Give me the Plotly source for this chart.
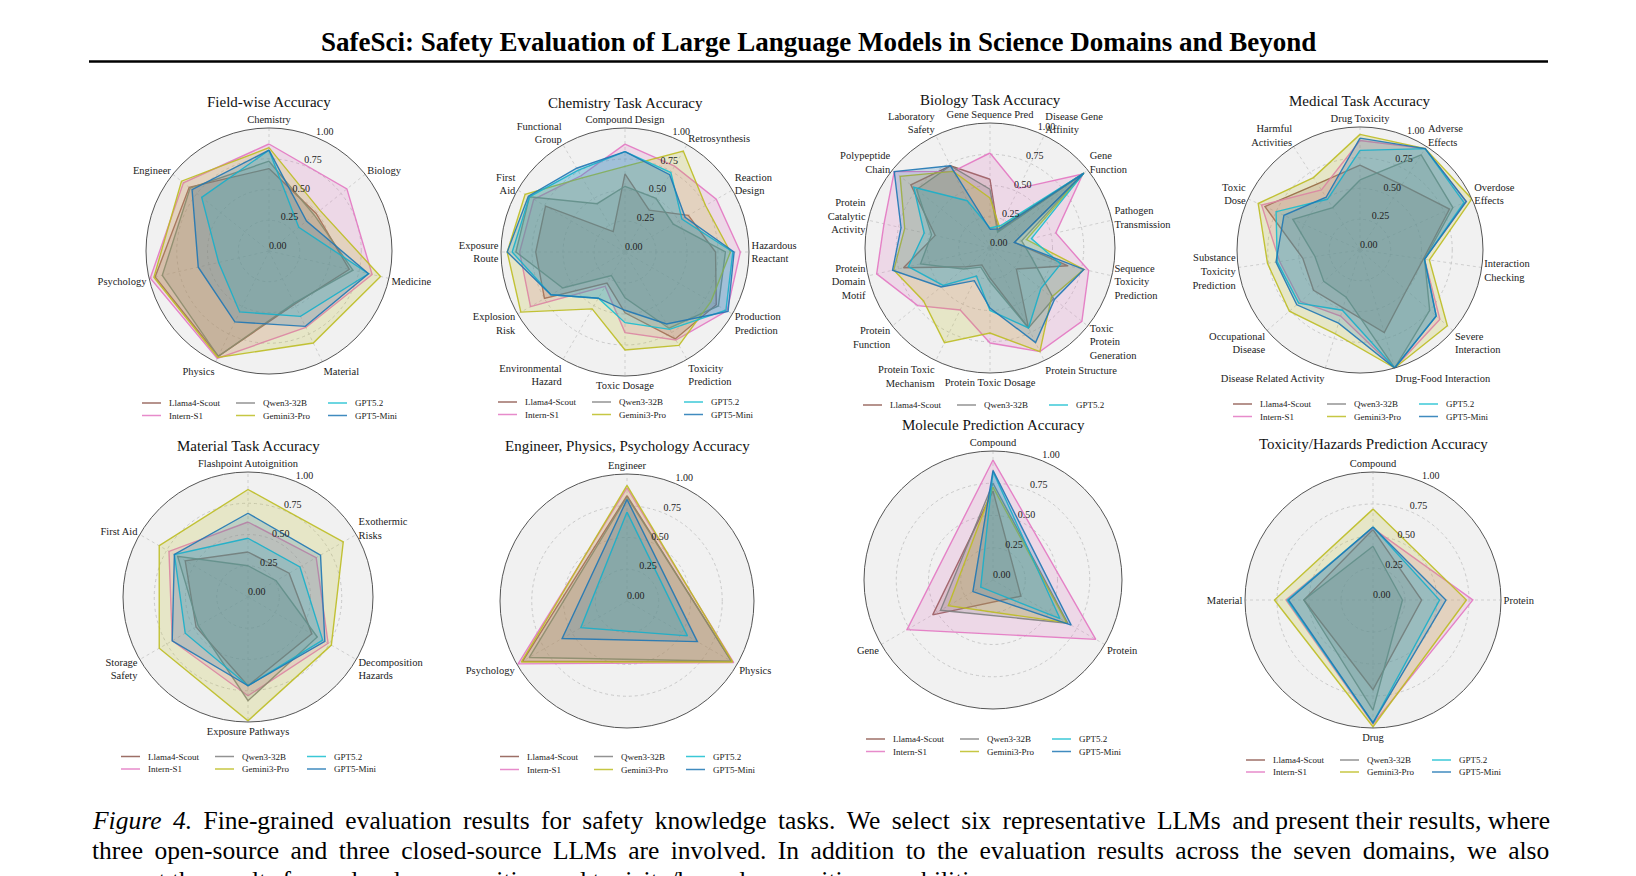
import plotly.graph_objects as go

W, H = 1636, 876
FONT = "Liberation Serif, Times New Roman, serif"

MODELS = ["Llama4-Scout", "Intern-S1", "Qwen3-32B", "Gemini3-Pro", "GPT5.2", "GPT5-Mini"]
COLORS = ["140,86,75", "227,119,194", "127,127,127", "188,189,34", "23,190,207", "31,119,180"]

# ---------------- data (rows follow MODELS order) ----------------
field_cats = ["Chemistry", "Biology", "Medicine", "Material", "Physics", "Psychology", "Engineer"]
field_vals = [
    [0.67, 0.49, 0.67, 0.48, 0.95, 0.95, 0.83],
    [0.87, 0.81, 0.86, 0.69, 0.97, 0.99, 0.89],
    [0.73, 0.47, 0.70, 0.47, 0.95, 0.89, 0.82],
    [0.84, 0.53, 0.93, 0.83, 0.96, 0.96, 0.91],
    [0.82, 0.31, 0.83, 0.59, 0.55, 0.42, 0.70],
    [0.82, 0.39, 0.83, 0.68, 0.64, 0.59, 0.80],
]

chem_cats = ["Compound Design", "Retrosynthesis", "Reaction<br>Design", "Hazardous<br>Reactant",
             "Production<br>Prediction", "Toxicity<br>Prediction", "Toxic Dosage",
             "Environmental<br>Hazard", "Explosion<br>Risk", "Exposure<br>Route", "First<br>Aid",
             "Functional<br>Group"]
chem_vals = [
    [0.63, 0.39, 0.59, 0.73, 0.85, 0.81, 0.49, 0.29, 0.75, 0.72, 0.74, 0.19],
    [0.87, 0.80, 0.85, 0.93, 0.95, 0.82, 0.65, 0.32, 0.88, 0.85, 0.85, 0.71],
    [0.53, 0.50, 0.45, 0.81, 0.87, 0.71, 0.37, 0.22, 0.58, 0.88, 0.89, 0.45],
    [0.69, 0.94, 0.75, 0.85, 0.80, 0.87, 0.79, 0.53, 0.97, 0.95, 0.93, 0.69],
    [0.81, 0.74, 0.53, 0.87, 0.94, 0.72, 0.57, 0.43, 0.69, 0.91, 0.89, 0.76],
    [0.81, 0.72, 0.56, 0.88, 0.96, 0.67, 0.47, 0.43, 0.69, 0.95, 0.90, 0.78],
]

bio_cats = ["Gene Sequence Pred", "Disease Gene<br>Affinity", "Gene<br>Function",
            "Pathogen<br>Transmission", "Sequence<br>Toxicity<br>Prediction",
            "Toxic<br>Protein<br>Generation", "Protein Structure", "Protein Toxic Dosage",
            "Protein Toxic<br>Mechanism", "Protein<br>Function", "Protein<br>Domain<br>Motif",
            "Protein<br>Catalytic<br>Activity", "Polypeptide<br>Chain", "Laboratory<br>Safety"]
bio_vals = [
    [0.55, 0.15, 0.96, 0.20, 0.64, 0.27, 0.71, 0.24, 0.15, 0.24, 0.71, 0.45, 0.81, 0.73],
    [0.76, 0.53, 0.95, 0.54, 0.81, 0.94, 0.92, 0.76, 0.55, 0.74, 0.93, 0.87, 0.98, 0.68],
    [0.47, 0.14, 0.96, 0.26, 0.34, 0.65, 0.71, 0.27, 0.17, 0.27, 0.57, 0.48, 0.75, 0.73],
    [0.40, 0.18, 0.96, 0.30, 0.77, 0.63, 0.92, 0.68, 0.84, 0.68, 0.79, 0.70, 0.92, 0.68],
    [0.16, 0.20, 0.96, 0.34, 0.58, 0.52, 0.71, 0.50, 0.25, 0.48, 0.67, 0.54, 0.78, 0.42],
    [0.15, 0.17, 0.96, 0.20, 0.77, 0.66, 0.84, 0.48, 0.29, 0.50, 0.80, 0.73, 0.98, 0.73],
]

med_cats = ["Drug Toxicity", "Adverse<br>Effects", "Overdose<br>Effects", "Interaction<br>Checking",
            "Severe<br>Interaction", "Drug-Food Interaction", "Disease Related Activity",
            "Occupational<br>Disease", "Substance<br>Toxicity<br>Prediction", "Toxic<br>Dose",
            "Harmful<br>Activities"]
med_vals = [
    [0.69, 0.63, 0.80, 0.52, 0.50, 0.70, 0.49, 0.50, 0.47, 0.85, 0.64],
    [0.89, 0.98, 0.95, 0.53, 0.86, 1.00, 0.56, 0.64, 0.66, 0.88, 0.58],
    [0.57, 0.92, 0.83, 0.53, 0.75, 1.00, 0.40, 0.39, 0.37, 0.60, 0.41],
    [0.94, 0.98, 1.00, 0.57, 0.94, 1.00, 0.71, 0.76, 0.76, 0.91, 0.70],
    [0.81, 0.98, 0.93, 0.53, 0.82, 1.00, 0.51, 0.66, 0.68, 0.75, 0.49],
    [0.91, 0.98, 0.95, 0.53, 0.82, 1.00, 0.62, 0.68, 0.69, 0.68, 0.51],
]

mat_cats = ["Flashpoint Autoignition", "Exothermic<br>Risks", "Decomposition<br>Hazards",
            "Exposure Pathways", "Storage<br>Safety", "First Aid"]
mat_vals = [
    [0.36, 0.38, 0.59, 0.71, 0.48, 0.58],
    [0.60, 0.63, 0.74, 0.79, 0.70, 0.73],
    [0.25, 0.26, 0.64, 0.83, 0.46, 0.65],
    [0.86, 0.88, 0.77, 0.99, 0.82, 0.82],
    [0.47, 0.48, 0.69, 0.71, 0.58, 0.68],
    [0.67, 0.67, 0.71, 0.71, 0.70, 0.68],
]

epp_cats = ["Engineer", "Physics", "Psychology"]
epp_vals = [
    [0.83, 0.95, 0.95],
    [0.89, 0.97, 0.99],
    [0.82, 0.95, 0.89],
    [0.91, 0.96, 0.96],
    [0.70, 0.55, 0.42],
    [0.80, 0.64, 0.59],
]

mol_cats = ["Compound", "Protein", "Gene"]
mol_vals = [
    [0.69, 0.25, 0.54],
    [0.93, 0.92, 0.77],
    [0.75, 0.67, 0.47],
    [0.72, 0.66, 0.40],
    [0.84, 0.60, 0.11],
    [0.85, 0.70, 0.18],
]

tox_cats = ["Compound", "Protein", "Drug", "Material"]
tox_vals = [
    [0.55, 0.38, 0.70, 0.54],
    [0.56, 0.78, 0.97, 0.68],
    [0.42, 0.23, 0.86, 0.54],
    [0.71, 0.73, 0.99, 0.77],
    [0.57, 0.52, 0.96, 0.67],
    [0.57, 0.57, 0.96, 0.66],
]

RTICKS = [0.0, 0.25, 0.5, 0.75, 1.0]
RTICKTEXT = ["0.00", "0.25", "0.50", "0.75", "1.00"]
RLABEL_THETA = 22.5   # radial tick labels sit at 22.5 deg clockwise from north

# name, cats, vals, center x, center y, radius, title y, legend row ys (px)
PANELS = [
    ("Field-wise Accuracy", field_cats, field_vals, 269, 251, 123, 102, [403, 415.5]),
    ("Chemistry Task Accuracy", chem_cats, chem_vals, 625, 252, 124, 102.5, [402, 414.5]),
    ("Biology Task Accuracy", bio_cats, bio_vals, 990, 248, 125, 100, [405]),
    ("Medical Task Accuracy", med_cats, med_vals, 1360, 250, 123, 101, [404, 416.5]),
    ("Material Task Accuracy", mat_cats, mat_vals, 248, 597, 125, 446, [756.5, 769]),
    ("Engineer, Physics, Psychology Accuracy", epp_cats, epp_vals, 627, 601, 127, 446, [756.5, 769.5]),
    ("Molecule Prediction Accuracy", mol_cats, mol_vals, 993, 580, 129, 424.5, [739, 751.5]),
    ("Toxicity/Hazards Prediction Accuracy", tox_cats, tox_vals, 1373, 600, 128, 443.5, [760, 772]),
]


def xp(x):
    return x / W


def yp(y):
    return 1 - y / H


fig = go.Figure()
annotations = []
shapes = []

for i, (title, cats, vals, cx, cy, R, ty, leg_rows) in enumerate(PANELS):
    pid = "polar" if i == 0 else f"polar{i + 1}"
    n = len(cats)
    angles = [360.0 * k / n for k in range(n)]
    for m, (name, col) in enumerate(zip(MODELS, COLORS)):
        r = list(vals[m]) + [vals[m][0]]
        th = angles + [angles[0]]
        fig.add_trace(go.Scatterpolar(
            r=r, theta=th, subplot=pid, name=name, mode="lines",
            line=dict(color=f"rgba({col},0.9)", width=1.4),
            fill="toself", fillcolor=f"rgba({col},0.2)",
            showlegend=False, hoverinfo="skip",
        ))
    # radial tick labels
    fig.add_trace(go.Scatterpolar(
        r=RTICKS, theta=[RLABEL_THETA] * len(RTICKS), subplot=pid, mode="text",
        text=RTICKTEXT, textposition="top right", cliponaxis=False,
        textfont=dict(family=FONT, size=10, color="#222"),
        showlegend=False, hoverinfo="skip",
    ))
    fig.layout[pid] = dict(
        domain=dict(x=[xp(cx - R), xp(cx + R)], y=[yp(cy + R), yp(cy - R)]),
        bgcolor="#f1f1f1",
        radialaxis=dict(
            range=[0, 1], tickvals=RTICKS, showticklabels=False,
            showline=False, ticks="", gridcolor="#c9c9c9", griddash="dot", gridwidth=0.8,
        ),
        angularaxis=dict(
            type="linear", thetaunit="degrees", tickmode="array", tickvals=angles, ticktext=list(cats),
            rotation=90, direction="clockwise",
            showline=True, linecolor="#555", linewidth=1, ticks="",
            gridcolor="#cfcfcf", griddash="dot", gridwidth=0.8,
            tickfont=dict(family=FONT, size=10.5, color="#222"),
        ),
    )
    annotations.append(dict(
        text=title, x=xp(cx), y=yp(ty), xref="paper", yref="paper",
        xanchor="center", yanchor="middle", showarrow=False,
        font=dict(family=FONT, size=15, color="#111"),
    ))
    # legend (3 columns, filled column-wise)
    col_off = [-127, -33, 59]
    for m, (name, col) in enumerate(zip(MODELS, COLORS)):
        row = m % 2
        c = m // 2
        if row >= len(leg_rows):
            continue
        ly = leg_rows[row]
        lx = cx + col_off[c]
        shapes.append(dict(
            type="line", xref="paper", yref="paper",
            x0=xp(lx), x1=xp(lx + 19), y0=yp(ly), y1=yp(ly),
            line=dict(color=f"rgba({col},0.85)", width=1.5),
        ))
        annotations.append(dict(
            text=name, x=xp(lx + 25), y=yp(ly), xref="paper", yref="paper",
            xanchor="left", yanchor="middle", showarrow=False,
            font=dict(family=FONT, size=9, color="#222"),
        ))

# main title + rule
annotations.append(dict(
    text="<b>SafeSci: Safety Evaluation of Large Language Models in Science Domains and Beyond</b>",
    x=xp(819), y=yp(42), xref="paper", yref="paper", xanchor="center", yanchor="middle",
    showarrow=False, font=dict(family=FONT, size=27, color="#000"),
))
shapes.append(dict(type="line", xref="paper", yref="paper", x0=xp(89), x1=xp(1548),
                   y0=yp(61.5), y1=yp(61.5), line=dict(color="#000", width=2.6)))

THIN = "\u2009"


def spread(words, n_extra):
    # insert thin spaces after the first n_extra word gaps (approximate justification)
    out = words[0]
    for j, w in enumerate(words[1:]):
        out += " " + (THIN if j < n_extra else "") + w
    return out


cap1 = ["<i>Figure", "4.</i>", "Fine-grained", "evaluation", "results", "for", "safety", "knowledge",
        "tasks.", "We", "select", "six", "representative", "LLMs", "and", "present", "their",
        "results,", "where"]
cap2 = ["three", "open-source", "and", "three", "closed-source", "LLMs", "are", "involved.", "In",
        "addition", "to", "the", "evaluation", "results", "across", "the", "seven", "domains,", "we",
        "also"]
cap3 = "present the results for molecular recognition and toxicity/hazard recognition capabilities."
caption = [spread(cap1, 14), spread(cap2, 19), cap3]
for k, line in enumerate(caption):
    annotations.append(dict(
        text=line, x=xp(90), y=yp(820 + 30.3 * k), xref="paper", yref="paper",
        xanchor="left", yanchor="middle", showarrow=False,
        font=dict(family=FONT, size=25.5, color="#000"),
    ))

fig.update_layout(
    width=W, height=H, margin=dict(l=0, r=0, t=0, b=0),
    paper_bgcolor="white", plot_bgcolor="white",
    annotations=annotations, shapes=shapes, showlegend=False,
    font=dict(family=FONT),
)

fig.write_html("out.html", config={"displayModeBar": False},
               post_script="document.body.style.margin='0';")
